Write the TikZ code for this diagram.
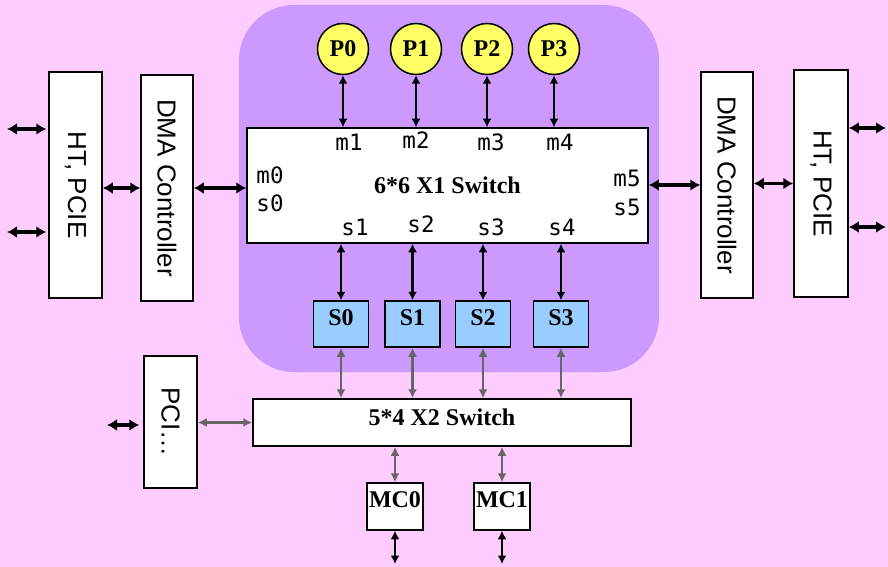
\documentclass[tikz,border=0pt]{standalone}
\usepackage{graphicx}
\usepackage{fontspec}
\setmainfont{Liberation Serif}
\setsansfont{Liberation Sans}
\setmonofont{DejaVu Sans Mono}
\usetikzlibrary{arrows.meta,calc}
\definecolor{bgpink}{RGB}{255,204,255}
\definecolor{purp}{RGB}{204,153,255}
\definecolor{yel}{RGB}{255,255,102}
\definecolor{sblue}{RGB}{153,204,255}
\definecolor{garr}{RGB}{102,102,102}
\begin{document}
\begin{tikzpicture}[x=1pt,y=-1pt,
  blk/.style={draw=black,line width=1.5pt,fill=white,inner sep=0pt},
  btxt/.style={font=\bfseries\fontsize{24}{28}\selectfont,inner sep=0pt},
  mtxt/.style={font=\ttfamily\fontsize{22.5}{26}\selectfont,inner sep=0pt},
  proc/.style={circle,draw=black,line width=1.5pt,fill=yel,minimum size=51pt,inner sep=0pt,font=\bfseries\fontsize{24}{28}\selectfont},
  sbox/.style={blk,fill=sblue,minimum width=55pt,minimum height=46pt},
  thk/.style={{Latex[length=10pt,width=12pt]}-{Latex[length=10pt,width=12pt]},line width=3.4pt,black},
  thn/.style={{Latex[length=8.5pt,width=9pt]}-{Latex[length=8.5pt,width=9pt]},line width=2.2pt,black},
  gry/.style={{Latex[length=9pt,width=9pt]}-{Latex[length=9pt,width=9pt]},line width=2.6pt,garr}]
\fill[bgpink] (0,0) rectangle (888,567);
\useasboundingbox (0,0) rectangle (888,567);
\fill[purp,rounded corners=55pt] (239,5) rectangle (659,372);

% left side
\node[blk,minimum width=53pt,minimum height=226pt] (HTL) at (75.5,185) {\rotatebox{-90}{\sffamily\fontsize{26}{30}\selectfont HT, PCIE}};
\node[blk,minimum width=52pt,minimum height=226pt] (DMAL) at (167,188) {\rotatebox{-90}{\sffamily\fontsize{26}{30}\selectfont DMA Controller}};
% right side
\node[blk,minimum width=52pt,minimum height=226pt] (DMAR) at (727,185) {\rotatebox{-90}{\sffamily\fontsize{26}{30}\selectfont DMA Controller}};
\node[blk,minimum width=54pt,minimum height=227pt] (HTR) at (821,183.5) {\rotatebox{-90}{\sffamily\fontsize{26}{30}\selectfont HT, PCIE}};

% X1 switch
\node[blk,minimum width=401pt,minimum height=115pt,font=\bfseries\fontsize{24}{28}\selectfont] (X1) at (447.5,185.5) {6*6 X1 Switch};
\node[mtxt] (m1) at (349,142) {m1};
\node[mtxt] (m2) at (416,140) {m2};
\node[mtxt] (m3) at (491,142) {m3};
\node[mtxt] (m4) at (560,142) {m4};
\node[mtxt] (s1) at (355,227) {s1};
\node[mtxt] (s2) at (421,224) {s2};
\node[mtxt] (s3) at (491,227) {s3};
\node[mtxt] (s4) at (562,227) {s4};
\node[mtxt] (m0) at (270,175) {m0};
\node[mtxt] (s0) at (270,203) {s0};
\node[mtxt] (m5) at (627,178) {m5};
\node[mtxt] (s5) at (627,207) {s5};

% processors
\node[proc] (P0) at (343,49) {P0};
\node[proc] (P1) at (416,49) {P1};
\node[proc] (P2) at (487,49) {P2};
\node[proc] (P3) at (554,49) {P3};

% S boxes
\node[sbox] (S0) at (341,324) {};
\node[sbox] (S1) at (412.5,324) {};
\node[sbox] (S2) at (483,324) {};
\node[sbox] (S3) at (561,324) {};
\node[btxt] (S0t) at (341,318) {S0};
\node[btxt] (S1t) at (412.5,318) {S1};
\node[btxt] (S2t) at (483,318) {S2};
\node[btxt] (S3t) at (561,318) {S3};

% X2 switch
\node[blk,minimum width=378pt,minimum height=47pt] (X2) at (442,422.5) {};
\node[btxt] (X2t) at (442,417) {5*4 X2 Switch};

% PCI
\node[blk,minimum width=53pt,minimum height=132pt] (PCI) at (170.5,422) {\rotatebox{-90}{\sffamily\fontsize{26}{30}\selectfont PCI…}};

% MC
\node[blk,minimum width=56pt,minimum height=47pt] (MC0) at (395,506.5) {};
\node[blk,minimum width=56pt,minimum height=47pt] (MC1) at (502,506.5) {};
\node[btxt] (MC0t) at (395,500) {MC0};
\node[btxt] (MC1t) at (502,500) {MC1};

% free ends
\coordinate (hl1) at (7,129);
\coordinate (hl2) at (7,232);
\coordinate (hr1) at (886,128);
\coordinate (hr2) at (886,227);
\coordinate (pl) at (107,425);
\coordinate (mb0) at (395,564);
\coordinate (mb1) at (502,564);

% black connectors
\draw[thk] (hl1) -- ($(hl1 -| HTL.west)+(-2,0)$);
\draw[thk] (hl2) -- ($(hl2 -| HTL.west)+(-2,0)$);
\draw[thk] (HTL.east |- DMAL.center) -- (DMAL.west);
\draw[thk] (DMAL.east) -- (DMAL.east -| X1.west);
\draw[thk] (X1.east |- DMAR.center) -- (DMAR.west);
\draw[thk] (DMAR.east |- HTR.center) -- (HTR.west);
\draw[thk] (hr1 -| HTR.east) -- (hr1);
\draw[thk] (hr2 -| HTR.east) -- (hr2);
\draw[thk] (pl) -- ($(pl -| PCI.west)+(-4,0)$);

\foreach \p in {P0,P1,P2,P3}{\draw[thn] (\p.south) -- (\p.south |- X1.north);}
\foreach \s in {S0,S1,S2,S3}{\draw[thn] (\s.north |- X1.south) -- (\s.north);}
\draw[thn] (MC0.south) -- (mb0);
\draw[thn] (MC1.south) -- (mb1);

% gray connectors
\foreach \s in {S0,S1,S2,S3}{\draw[gry] (\s.south) -- (\s.south |- X2.north);}
\draw[gry] (PCI.east |- X2.center) -- (X2.west);
\draw[gry] (X2.south -| MC0.north) -- (MC0.north);
\draw[gry] (X2.south -| MC1.north) -- (MC1.north);
\end{tikzpicture}
\end{document}
